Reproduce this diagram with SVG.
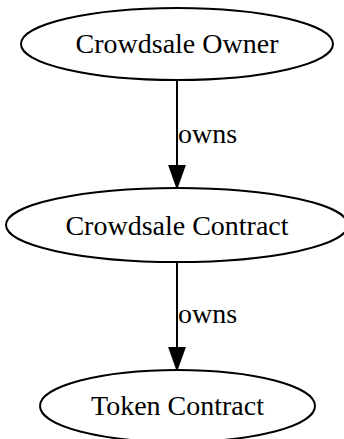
<svg xmlns="http://www.w3.org/2000/svg" width="344" height="439" viewBox="0 0 344 439">
  <style>
    .node ellipse { fill: #ffffff; stroke: #000000; stroke-width: 2; }
    .node text, .label { font-family: "Liberation Serif", "Times New Roman", serif; font-size: 28px; fill: #000000; }
    .node text { text-anchor: middle; }
    .edge line { stroke: #000000; stroke-width: 2; }
    .head { fill: #000000; stroke: #000000; stroke-width: 2; }
  </style>
  <rect width="344" height="439" fill="#ffffff"/>

  <g id="edges">
    <g id="owner_to_crowdsale" class="edge">
      <line x1="177" y1="80" x2="177" y2="166"/>
      <polygon class="head" points="169.5,166 184.5,166 177,187"/>
      <text class="label" x="178" y="143">owns</text>
    </g>
    <g id="crowdsale_to_token" class="edge">
      <line x1="177" y1="262" x2="177" y2="348"/>
      <polygon class="head" points="169.5,348 184.5,348 177,369"/>
      <text class="label" x="178" y="323">owns</text>
    </g>
  </g>

  <g id="crowdsale_owner" class="node">
    <ellipse cx="177" cy="44" rx="156" ry="36"/>
    <text x="177" y="53">Crowdsale Owner</text>
  </g>

  <g id="crowdsale_contract" class="node">
    <ellipse cx="177" cy="225" rx="171" ry="37"/>
    <text x="177" y="235">Crowdsale Contract</text>
  </g>

  <g id="token_contract" class="node">
    <ellipse cx="177.5" cy="406" rx="137.5" ry="36"/>
    <text x="177.5" y="415">Token Contract</text>
  </g>
</svg>
